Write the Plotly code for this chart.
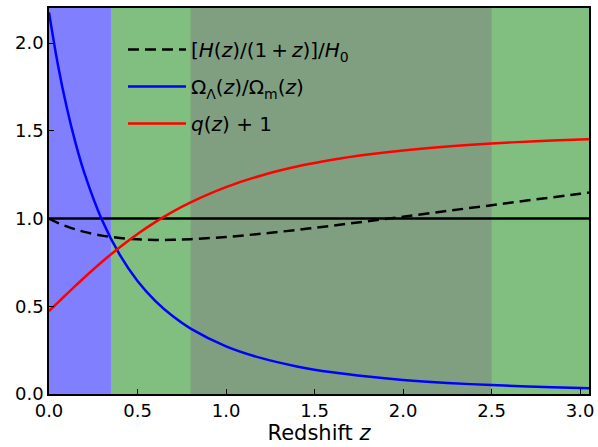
import plotly.graph_objects as go

z = [0.0, 0.05, 0.1, 0.15, 0.2, 0.3, 0.4, 0.5, 0.6, 0.7, 0.8, 1.0, 1.2, 1.4,
     1.6, 1.8, 2.0, 2.25, 2.5, 2.75, 3.0, 3.05]
hubble_ratio = [1.000, 0.9757, 0.9553, 0.9382, 0.9240, 0.9027, 0.8891, 0.8814,
                0.8784, 0.8789, 0.8823, 0.8951, 0.9135, 0.9354, 0.9593, 0.9846,
                1.0105, 1.0434, 1.0763, 1.1090, 1.1414, 1.1478]
omega_ratio = [2.175, 1.8785, 1.6338, 1.4298, 1.2584, 0.9898, 0.7925, 0.6443,
               0.5309, 0.4426, 0.3729, 0.2718, 0.2042, 0.1573, 0.1237, 0.0991,
               0.0805, 0.0633, 0.0507, 0.0412, 0.0340, 0.0327]
q_plus_one = [0.4725, 0.5211, 0.5695, 0.6173, 0.6642, 0.7538, 0.8368, 0.9122,
              0.9798, 1.0398, 1.0926, 1.1794, 1.2456, 1.2961, 1.3348, 1.3648,
              1.3882, 1.4106, 1.4276, 1.4406, 1.4507, 1.4525]
reference_level = [1.0, 1.0]
reference_x = [0.0, 3.05]

# shaded redshift bands: (start, end)
band_green = [0.0, 3.05]
band_blue = [0.0, 0.35]
band_mixed = [0.8, 2.5]

x_ticks = [0.0, 0.5, 1.0, 1.5, 2.0, 2.5, 3.0]
y_ticks = [0.0, 0.5, 1.0, 1.5, 2.0]

fig = go.Figure()

for band, col in [(band_green, "rgb(128,191,128)"),
                  (band_blue, "rgb(128,128,255)"),
                  (band_mixed, "rgb(128,159,128)")]:
    fig.add_vrect(x0=band[0], x1=band[1], fillcolor=col, opacity=1,
                  line_width=0, layer="below")

fig.add_trace(go.Scatter(x=reference_x, y=reference_level, mode="lines",
                         line=dict(color="black", width=2.5), showlegend=False,
                         hoverinfo="skip"))
fig.add_trace(go.Scatter(x=z, y=hubble_ratio, mode="lines",
                         line=dict(color="black", width=2.5, dash="11px,6px", shape="spline"),
                         name="[<i>H</i>(<i>z</i>)/(1\u2009+\u2009<i>z</i>)]/<i>H</i><sub>0</sub>",
                         legendgroup="a"))
fig.add_trace(go.Scatter(x=z, y=omega_ratio, mode="lines",
                         line=dict(color="blue", width=2.5, shape="spline"),
                         name="Ω<sub>Λ</sub>(<i>z</i>)/Ω<sub>m</sub>(<i>z</i>)",
                         legendgroup="b"))
fig.add_trace(go.Scatter(x=z, y=q_plus_one, mode="lines",
                         line=dict(color="red", width=2.5, shape="spline"),
                         name="<i>q</i>(<i>z</i>) + 1",
                         legendgroup="c"))

axis_common = dict(showline=True, linecolor="black", linewidth=1.5, mirror=True,
                   ticks="inside", ticklen=5, tickwidth=1.3, tickcolor="black",
                   showgrid=False, zeroline=False,
                   tickfont=dict(family="DejaVu Sans", size=18, color="black"))

fig.update_xaxes(range=[0, 3.05], tickvals=x_ticks,
                 ticktext=[f"{v:.1f}" for v in x_ticks],
                 title=dict(text="Redshift <i>z</i>", standoff=2,
                            font=dict(family="DejaVu Sans", size=21, color="black")),
                 **axis_common)
fig.update_yaxes(range=[0, 2.2], tickvals=y_ticks,
                 ticktext=[f"{v:.1f}" for v in y_ticks], **axis_common)

fig.update_layout(
    width=598, height=447,
    margin=dict(l=49, r=9, t=8, b=53, autoexpand=False),
    plot_bgcolor="white", paper_bgcolor="white",
    font=dict(family="DejaVu Sans", size=18, color="black"),
    legend=dict(x=0.137, y=0.943, xanchor="left", yanchor="top",
                bgcolor="rgba(0,0,0,0)", borderwidth=0,
                itemwidth=58, tracegroupgap=8,
                font=dict(family="DejaVu Sans", size=20, color="black")),
)

fig.write_html("out.html")
